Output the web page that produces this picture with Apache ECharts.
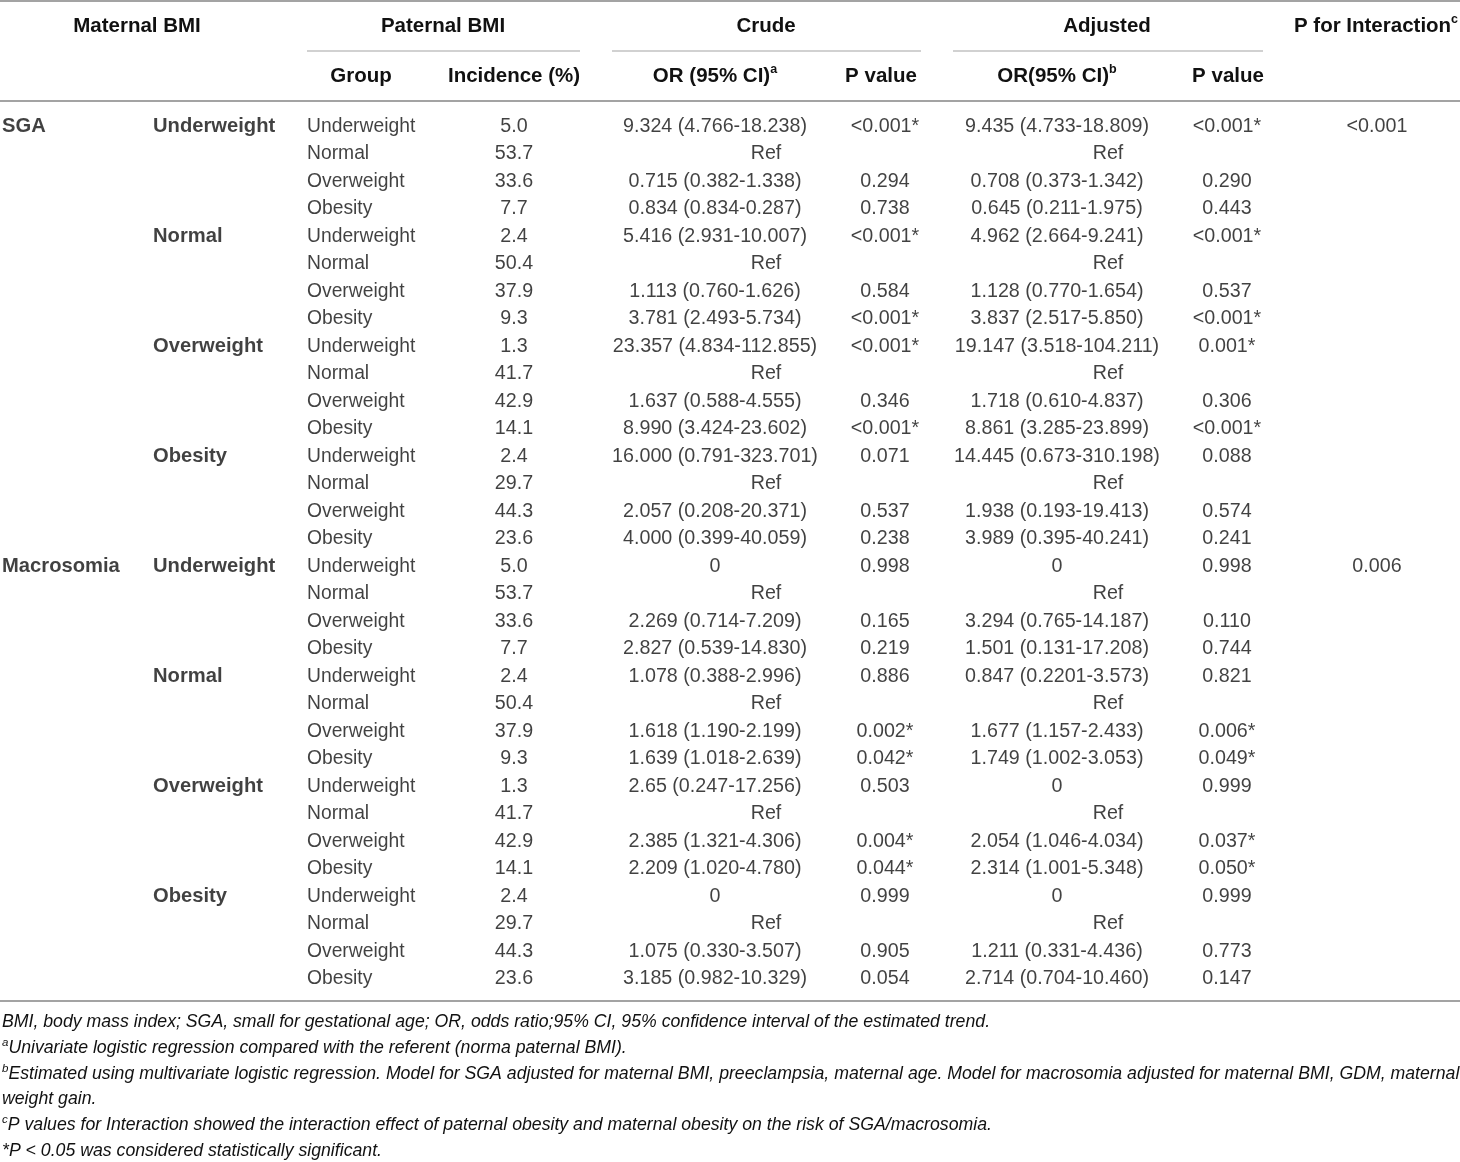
<!DOCTYPE html>
<html><head><meta charset="utf-8">
<script src="https://cdn.jsdelivr.net/npm/echarts@6/dist/echarts.min.js"></script>
<style>html,body{margin:0;padding:0;background:#fff}#c{width:1460px;height:1162px}</style>
</head><body><div id="c"></div>
<script>
// ---------- DATA ----------
const outcomes = ['SGA', 'Macrosomia'];
const maternalGroups = ['Underweight', 'Normal', 'Overweight', 'Obesity'];
const paternalGroups = ['Underweight', 'Normal', 'Overweight', 'Obesity'];
const incidence = [
  '5.0','53.7','33.6','7.7', '2.4','50.4','37.9','9.3', '1.3','41.7','42.9','14.1', '2.4','29.7','44.3','23.6',
  '5.0','53.7','33.6','7.7', '2.4','50.4','37.9','9.3', '1.3','41.7','42.9','14.1', '2.4','29.7','44.3','23.6'
];
const crudeOR = [
  '9.324 (4.766-18.238)','Ref','0.715 (0.382-1.338)','0.834 (0.834-0.287)',
  '5.416 (2.931-10.007)','Ref','1.113 (0.760-1.626)','3.781 (2.493-5.734)',
  '23.357 (4.834-112.855)','Ref','1.637 (0.588-4.555)','8.990 (3.424-23.602)',
  '16.000 (0.791-323.701)','Ref','2.057 (0.208-20.371)','4.000 (0.399-40.059)',
  '0','Ref','2.269 (0.714-7.209)','2.827 (0.539-14.830)',
  '1.078 (0.388-2.996)','Ref','1.618 (1.190-2.199)','1.639 (1.018-2.639)',
  '2.65 (0.247-17.256)','Ref','2.385 (1.321-4.306)','2.209 (1.020-4.780)',
  '0','Ref','1.075 (0.330-3.507)','3.185 (0.982-10.329)'
];
const crudeP = [
  '<0.001*','','0.294','0.738', '<0.001*','','0.584','<0.001*',
  '<0.001*','','0.346','<0.001*', '0.071','','0.537','0.238',
  '0.998','','0.165','0.219', '0.886','','0.002*','0.042*',
  '0.503','','0.004*','0.044*', '0.999','','0.905','0.054'
];
const adjustedOR = [
  '9.435 (4.733-18.809)','Ref','0.708 (0.373-1.342)','0.645 (0.211-1.975)',
  '4.962 (2.664-9.241)','Ref','1.128 (0.770-1.654)','3.837 (2.517-5.850)',
  '19.147 (3.518-104.211)','Ref','1.718 (0.610-4.837)','8.861 (3.285-23.899)',
  '14.445 (0.673-310.198)','Ref','1.938 (0.193-19.413)','3.989 (0.395-40.241)',
  '0','Ref','3.294 (0.765-14.187)','1.501 (0.131-17.208)',
  '0.847 (0.2201-3.573)','Ref','1.677 (1.157-2.433)','1.749 (1.002-3.053)',
  '0','Ref','2.054 (1.046-4.034)','2.314 (1.001-5.348)',
  '0','Ref','1.211 (0.331-4.436)','2.714 (0.704-10.460)'
];
const adjustedP = [
  '<0.001*','','0.290','0.443', '<0.001*','','0.537','<0.001*',
  '0.001*','','0.306','<0.001*', '0.088','','0.574','0.241',
  '0.998','','0.110','0.744', '0.821','','0.006*','0.049*',
  '0.999','','0.037*','0.050*', '0.999','','0.773','0.147'
];
const interactionP = ['<0.001', '0.006'];
const footnotes = [
  'BMI, body mass index; SGA, small for gestational age; OR, odds ratio;95% CI, 95% confidence interval of the estimated trend.',
  '{sup|a}Univariate logistic regression compared with the referent (norma paternal BMI).',
  '{sup|b}Estimated using multivariate logistic regression. Model for SGA adjusted for maternal BMI, preeclampsia, maternal age. Model for macrosomia adjusted for maternal BMI, GDM, maternal',
  'weight gain.',
  '{sup|c}P values for Interaction showed the interaction effect of paternal obesity and maternal obesity on the risk of SGA/macrosomia.',
  '*P < 0.05 was considered statistically significant.'
];

// ---------- LAYOUT ----------
const FONT = '"Liberation Sans", Arial, sans-serif';
const INK = '#111111';
const RULE = '#a3a3a3';
const colX = { outcome: 2, maternal: 153, paternal: 307, incidence: 514, crudeOR: 715, crudeP: 885, crudeRef: 766,
  adjOR: 1057, adjP: 1227, adjRef: 1108, inter: 1377 };

const nRows = outcomes.length * maternalGroups.length * paternalGroups.length;
const rowIds = Array.from({ length: nRows }, (_, i) => 'r' + i);
const perOutcome = maternalGroups.length * paternalGroups.length;

function textSeries(name, x, items, align, bold, size) {
  return {
    name, type: 'scatter', symbolSize: 0.01, silent: true, animation: false,
    itemStyle: { color: 'rgba(0,0,0,0)' },
    data: items.map(it => ({ name: it.text, value: [x, it.row] })),
    label: {
      show: true, formatter: p => p.name,
      position: align === 'left' ? 'right' : 'inside', distance: 0,
      color: INK, fontFamily: FONT, fontSize: size || 19.7, fontWeight: bold ? 'bold' : 'normal'
    }
  };
}

const outcomeItems = outcomes.map((t, i) => ({ row: i * perOutcome, text: t }));
const maternalItems = [];
outcomes.forEach((o, oi) => maternalGroups.forEach((m, mi) =>
  maternalItems.push({ row: oi * perOutcome + mi * paternalGroups.length, text: m })));
const paternalItems = rowIds.map((_, i) => ({ row: i, text: paternalGroups[i % paternalGroups.length] }));
const incItems = incidence.map((t, i) => ({ row: i, text: t }));
const notRef = (arr) => arr.map((t, i) => ({ row: i, text: t })).filter(d => d.text !== 'Ref' && d.text !== '');
const isRef = (arr) => arr.map((t, i) => ({ row: i, text: t })).filter(d => d.text === 'Ref');
const interItems = interactionP.map((t, i) => ({ row: i * perOutcome, text: t }));

const series = [
  textSeries('outcome', colX.outcome, outcomeItems, 'left', true, 20.2),
  textSeries('maternal', colX.maternal, maternalItems, 'left', true, 20.2),
  textSeries('paternal', colX.paternal, paternalItems, 'left', false, 19.3),
  textSeries('incidence', colX.incidence, incItems, 'center', false),
  textSeries('crudeOR', colX.crudeOR, notRef(crudeOR), 'center', false),
  textSeries('crudeRef', colX.crudeRef, isRef(crudeOR), 'center', false),
  textSeries('crudeP', colX.crudeP, notRef(crudeP), 'center', false),
  textSeries('adjOR', colX.adjOR, notRef(adjustedOR), 'center', false),
  textSeries('adjRef', colX.adjRef, isRef(adjustedOR), 'center', false),
  textSeries('adjP', colX.adjP, notRef(adjustedP), 'center', false),
  textSeries('inter', colX.inter, interItems, 'center', false)
];

// header + rules + footnotes
const supHead = { sup: { fontSize: 12.5, fontWeight: 'bold', fontFamily: FONT, fill: INK, verticalAlign: 'top', lineHeight: 25 } };
function hText(text, x, y) {
  return { type: 'text', silent: true, style: { text, x, y, fill: INK, font: 'bold 20.5px ' + FONT,
    textAlign: 'center', textVerticalAlign: 'middle', align: 'center', verticalAlign: 'middle', rich: supHead } };
}
function rule(x1, x2, y, w) {
  return { type: 'line', silent: true, shape: { x1, y1: y, x2, y2: y }, style: { stroke: RULE, lineWidth: w } };
}
const graphics = [
  rule(0, 1460, 1, 2),
  rule(307, 580, 51, 1.2), rule(612, 921, 51, 1.2), rule(953, 1263, 51, 1.2),
  rule(0, 1460, 101, 2),
  rule(0, 1460, 1001, 2.2),
  hText('Maternal BMI', 137, 26), hText('Paternal BMI', 443, 26), hText('Crude', 766, 26),
  hText('Adjusted', 1107, 26), hText('P for Interaction{sup|c}', 1376, 26),
  hText('Group', 361, 76), hText('Incidence (%)', 514, 76), hText('OR (95% CI){sup|a}', 715, 76),
  hText('P value', 881, 76), hText('OR(95% CI){sup|b}', 1057, 76), hText('P value', 1228, 76)
];
const supFoot = { sup: { fontSize: 11.5, fontStyle: 'italic', fontFamily: FONT, fill: INK, verticalAlign: 'top', lineHeight: 22 } };
footnotes.forEach((t, i) => {
  graphics.push({ type: 'text', silent: true, style: { text: t, x: 2, y: 1022 + i * 25.8, fill: INK,
    font: 'italic 17.7px ' + FONT, textAlign: 'left', textVerticalAlign: 'middle', align: 'left', verticalAlign: 'middle', rich: supFoot } });
});

const chart = echarts.init(document.getElementById('c'), null, { renderer: 'canvas' });
chart.setOption({
  animation: false,
  backgroundColor: '#fff',
  grid: { left: 0, right: 0, top: 112.75, height: 880, containLabel: false },
  xAxis: { type: 'value', min: 0, max: 1460, show: false },
  yAxis: { type: 'category', data: rowIds, inverse: true, show: false },
  series,
  graphic: graphics
});
</script></body></html>
